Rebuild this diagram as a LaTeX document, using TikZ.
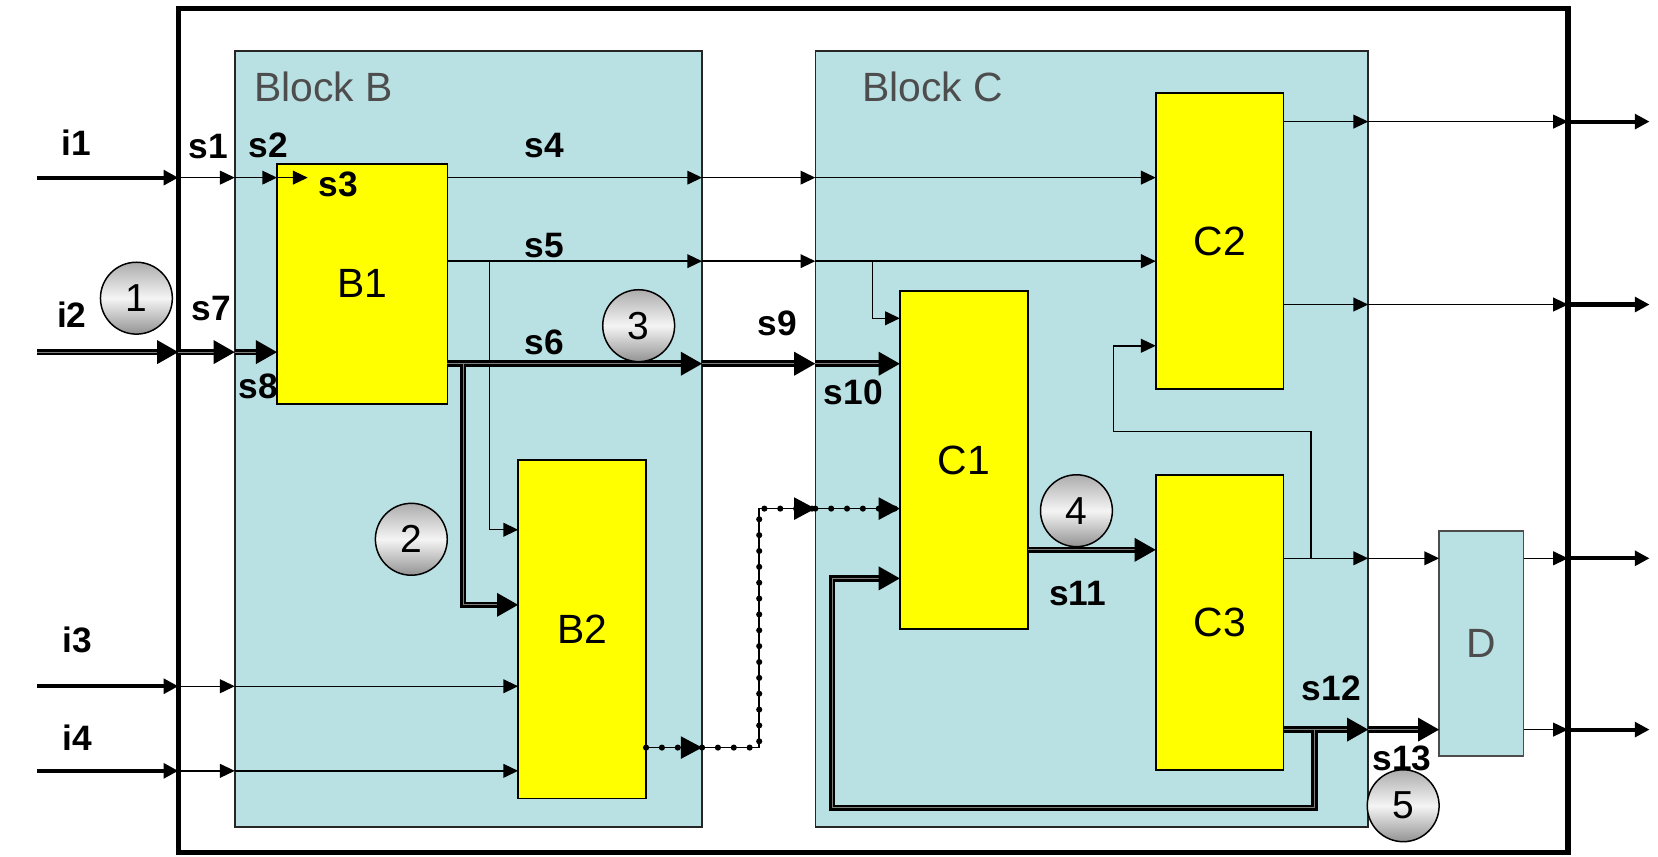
\documentclass[tikz,border=0pt]{standalone}
\usepackage{fontspec}
\setmainfont{Liberation Sans}
\usetikzlibrary{arrows.meta}
\definecolor{blockblue}{RGB}{185,224,227}
\definecolor{namegray}{RGB}{77,77,77}
\definecolor{unityellow}{RGB}{255,255,0}
\tikzset{
  blk/.style={draw=black!85, line width=0.8pt, fill=blockblue, inner sep=0pt, outer sep=0pt},
  ubox/.style={draw=black, line width=0.8pt, fill=unityellow, inner sep=0pt, outer sep=0pt, font=\fontsize{22}{24}\selectfont},
  blkname/.style={text=namegray, font=\fontsize{22}{24}\selectfont, inner sep=0pt, anchor=west},
  sig/.style={line width=0.8pt, -{Triangle[length=0.28cm,width=0.26cm]}},
  extin/.style={line width=2.2pt, -{Triangle[length=0.28cm,width=0.28cm]}},
  bus/.style={line width=1.5pt, double=black!50, double distance=0.5pt, -{Triangle[length=0.4cm,width=0.44cm]}},
  dotbus/.style={line width=0.8pt, -{Triangle[length=0.4cm,width=0.42cm]}, postaction={draw, -, line width=3.3pt, line cap=round, dash pattern=on 0pt off 0.3cm}},
  lbl/.style={font=\bfseries\fontsize{19}{21}\selectfont},
  ball/.style={circle, draw=black, line width=0.8pt, minimum size=1.36cm, inner sep=0pt, top color=gray!65, bottom color=gray!85, middle color=gray!8, font=\fontsize{21}{23}\selectfont}
}

\begin{document}
\begin{tikzpicture}[x=0.02cm, y=-0.02cm]
    \useasboundingbox (0,0) rectangle (1568,810);
    % Frame and the two blocks.
        \node[draw, line width=2.7pt, minimum width=26.29cm, minimum height=15.96cm, inner sep=0pt, outer sep=0pt] (frame) at (825.75,407) {};
        \node[blk, minimum width=8.84cm, minimum height=14.68cm] (blkB) at (443,415) {};
        \node[blk, minimum width=10.46cm, minimum height=14.68cm] (blkC) at (1032.5,415) {};
        \node[blkname] (nameB) at (240,82) {Block B};
        \node[blkname] (nameC) at (815,82) {Block C};
    % The units.
        \node[ubox, minimum width=3.22cm, minimum height=4.54cm] (B1) at (342.5,268.5) {B1};
        \node[ubox, minimum width=2.42cm, minimum height=6.4cm] (B2) at (550.5,595) {B2};
        \node[ubox, minimum width=2.42cm, minimum height=6.4cm] (C1) at (911.5,435) {C1};
        \node[ubox, minimum width=2.42cm, minimum height=5.6cm] (C2) at (1153.5,228) {C2};
        \node[ubox, minimum width=2.42cm, minimum height=5.58cm] (C3) at (1153.5,588.5) {C3};
        \node[blk, draw=black!70, text=namegray, font=\fontsize{22}{24}\selectfont, minimum width=1.6cm, minimum height=4.26cm] (D) at (1401,608.5) {D};
    % Pins and junctions.
        \coordinate (i1) at (35,168);
        \coordinate (i2) at (35,333);
        \coordinate (i3) at (35,649);
        \coordinate (i4) at (35,729);
        \coordinate (o1) at (1560,115);
        \coordinate (o2) at (1560,288);
        \coordinate (o3) at (1560,528);
        \coordinate (o4) at (1560,690);
        \coordinate (s3end) at (291,168);
        \coordinate (jB5) at (463,247);
        \coordinate (jB6) at (438,344);
        \coordinate (jC5) at (825,247);
        \coordinate (jD) at (718,707);
        \coordinate (jC3) at (1240,528);
        \coordinate (fbC2) at (1053,408);
        \coordinate (j12) at (1243,690);
        \coordinate (loopL) at (787,764);
    % Inputs into block B.
        \draw[extin] (i1) -- (frame.west |- i1);
        \draw[sig] (frame.west |- i1) -- (blkB.west |- i1);
        \draw[sig] (blkB.west |- i1) -- (B1.west |- i1);
        \draw[sig] (B1.west |- i1) -- (s3end);
        \draw[bus] (i2) -- (frame.west |- i2);
        \draw[bus] (frame.west |- i2) -- (blkB.west |- i2);
        \draw[bus] (blkB.west |- i2) -- (B1.west |- i2);
        \draw[extin] (i3) -- (frame.west |- i3);
        \draw[sig] (frame.west |- i3) -- (blkB.west |- i3);
        \draw[sig] (blkB.west |- i3) -- (B2.west |- i3);
        \draw[extin] (i4) -- (frame.west |- i4);
        \draw[sig] (frame.west |- i4) -- (blkB.west |- i4);
        \draw[sig] (blkB.west |- i4) -- (B2.west |- i4);
    % From B1 over to block C.
        \draw[sig] (B1.east |- i1) -- (blkB.east |- i1);
        \draw[sig] (blkB.east |- i1) -- (blkC.west |- i1);
        \draw[sig] (blkC.west |- i1) -- (C2.west |- i1);
        \draw[sig] (B1.east |- jB5) -- (blkB.east |- jB5);
        \draw[sig] (blkB.east |- jB5) -- (blkC.west |- jB5);
        \draw[sig] (blkC.west |- jB5) -- (C2.west |- jB5);
        \draw[sig] (jB5) |- (B2.west |- 0,501);
        \draw[sig] (jC5) |- (C1.west |- 0,301);
        \draw[bus] (B1.east |- jB6) -- (blkB.east |- jB6);
        \draw[bus] (blkB.east |- jB6) -- (blkC.west |- jB6);
        \draw[bus] (blkC.west |- jB6) -- (C1.west |- jB6);
        \draw[bus] (jB6) |- (B2.west |- 0,572);
    % Dotted path out of B2.
        \draw[dotbus] (B2.east |- jD) -- (blkB.east |- jD);
        \draw[dotbus] (blkB.east |- jD) -- (jD) |- (blkC.west |- 0,481);
        \draw[dotbus] (blkC.west |- 0,481) -- (C1.west |- 0,481);
    % Inside block C.
        \draw[bus] (C1.east |- 0,520) -- (C3.west |- 0,520);
        \draw[bus] (C3.east |- j12) -- (blkC.east |- j12);
        \draw[bus] (blkC.east |- j12) -- (D.west |- j12);
        \draw[bus] (j12) |- (loopL) |- (C1.west |- 0,547);
        \draw[sig] (C3.east |- jC3) -- (blkC.east |- jC3);
        \draw[sig] (blkC.east |- jC3) -- (D.west |- jC3);
        \draw[sig] (jC3) |- (fbC2) |- (C2.west |- 0,327);
    % Outputs.
        \draw[sig] (C2.east |- o1) -- (blkC.east |- o1);
        \draw[sig] (blkC.east |- o1) -- (frame.east |- o1);
        \draw[extin] (frame.east |- o1) -- (o1);
        \draw[sig] (C2.east |- o2) -- (blkC.east |- o2);
        \draw[sig] (blkC.east |- o2) -- (frame.east |- o2);
        \draw[extin] (frame.east |- o2) -- (o2);
        \draw[sig] (D.east |- o3) -- (frame.east |- o3);
        \draw[extin] (frame.east |- o3) -- (o3);
        \draw[sig] (D.east |- o4) -- (frame.east |- o4);
        \draw[extin] (frame.east |- o4) -- (o4);
    % Below nodes are the labels.
        \node[lbl] (li1) at (72,135) {i1};
        \node[lbl] (li2) at (68,298) {i2};
        \node[lbl] (li3) at (73,605) {i3};
        \node[lbl] (li4) at (73,698) {i4};
        \node[lbl] (ls1) at (197,139) {s1};
        \node[lbl] (ls2) at (254,137) {s2};
        \node[lbl] (ls3) at (320,174) {s3};
        \node[lbl] (ls4) at (515,138) {s4};
        \node[lbl] (ls5) at (515,232) {s5};
        \node[lbl] (ls6) at (515,324) {s6};
        \node[lbl] (ls7) at (200,292) {s7};
        \node[lbl] (ls8) at (244,365) {s8};
        \node[lbl] (ls9) at (735,306) {s9};
        \node[lbl] (ls10) at (807,371) {s10};
        \node[lbl] (ls11) at (1019,561) {s11};
        \node[lbl] (ls12) at (1259,651) {s12};
        \node[lbl] (ls13) at (1326,717) {s13};
    % Numbered balls.
        \node[ball] (n1) at (129,282) {1};
        \node[ball] (n2) at (389,510) {2};
        \node[ball] (n3) at (604,308) {3};
        \node[ball] (n4) at (1018,483) {4};
        \node[ball] (n5) at (1327,762) {5};
\end{tikzpicture}
\end{document}
